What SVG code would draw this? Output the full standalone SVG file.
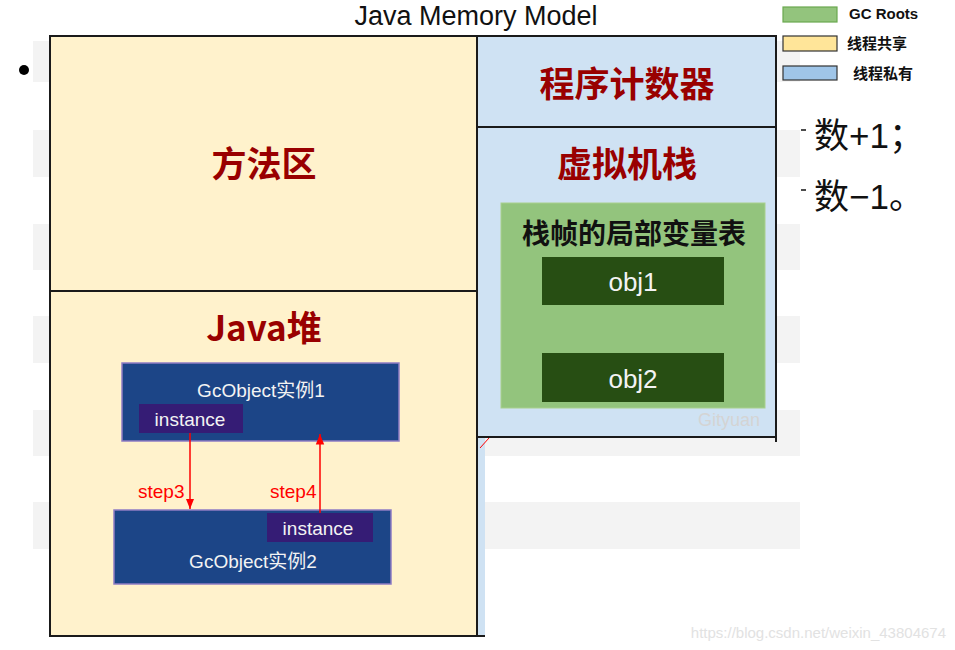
<svg xmlns="http://www.w3.org/2000/svg" width="955" height="650" viewBox="0 0 955 650">
<defs>
<style>
.stripe{fill:#f3f3f3}
.area{stroke:#1a1a1a;stroke-width:2}
.shared{fill:#fff2cc}
.private{fill:#cfe2f3}
.big{font-family:"Noto Sans CJK SC","Liberation Sans",sans-serif;font-weight:bold;font-size:35px;fill:#990000;text-anchor:middle}
.obj{fill:#1c4587;stroke:#8e7cc3;stroke-width:1.5}
.inst{fill:#351c75}
.wt{font-family:"Liberation Sans","Noto Sans CJK SC",sans-serif;fill:#f3f3f3;font-size:19px;text-anchor:middle}
.step{font-family:"Liberation Sans",sans-serif;fill:#ff0000;font-size:19px}
.leg{font-family:"Liberation Sans","Noto Sans CJK SC",sans-serif;font-weight:bold;font-size:15px;fill:#111}
.conn{stroke:#ff0000;stroke-width:1.5;fill:none}
</style>
<marker id="ah" viewBox="0 0 10 10" refX="10" refY="5" markerWidth="7" markerHeight="7" orient="auto">
<path d="M0,1 L10,5 L0,9 z" fill="#ff0000"/>
</marker>
</defs>
<rect width="955" height="650" fill="#ffffff"/>
<g id="background">
<rect class="stripe" x="33" y="41" width="767" height="41"/>
<rect class="stripe" x="33" y="130" width="767" height="47"/>
<rect class="stripe" x="33" y="224" width="767" height="46"/>
<rect class="stripe" x="33" y="316" width="767" height="47"/>
<rect class="stripe" x="33" y="410" width="767" height="46"/>
<rect class="stripe" x="33" y="502" width="767" height="47"/>
<circle cx="24" cy="70" r="5" fill="#000"/>
</g>
<text id="title" x="476" y="25" font-family="Liberation Sans, sans-serif" font-size="27" fill="#111" text-anchor="middle">Java Memory Model</text>
<g id="method-area">
<rect class="area shared" x="50" y="36" width="427" height="255"/>
<text class="big" x="264" y="177">方法区</text>
</g>
<g id="java-heap">
<rect class="area shared" x="50" y="291" width="427" height="345"/>
<text class="big" x="264" y="341">Java堆</text>
</g>
<g id="pc-register">
<rect class="area private" x="477" y="36" width="299" height="91"/>
<text class="big" x="627" y="97">程序计数器</text>
</g>
<g id="vm-stack">
<rect class="area private" x="477" y="127" width="299" height="310"/>
<line x1="776" y1="437" x2="776" y2="442" stroke="#1a1a1a" stroke-width="2"/>
<text class="big" x="627" y="177">虚拟机栈</text>
<text x="729" y="426" font-family="Liberation Sans, sans-serif" font-size="18" fill="#d4d4d4" text-anchor="middle">Gityuan</text>
</g>
<g id="lower-strip">
<rect x="478" y="438" width="7" height="198" fill="#cfe2f3"/>
<line x1="477" y1="636" x2="485" y2="636" stroke="#1a1a1a" stroke-width="2"/>
<line x1="480" y1="448" x2="489" y2="438" stroke="#ff0000" stroke-width="1"/>
</g>
<g id="local-var-table">
<rect x="501" y="203" width="264" height="205" fill="#93c47d" stroke="#a9d08e" stroke-width="1"/>
<text x="634" y="244" font-family="Noto Sans CJK SC, sans-serif" font-weight="bold" font-size="28" fill="#111" text-anchor="middle">栈帧的局部变量表</text>
</g>
<g id="obj1">
<rect x="542" y="257" width="182" height="48" fill="#274e13"/>
<text x="633" y="291" font-family="Liberation Sans, sans-serif" font-size="26" fill="#f3f3f3" text-anchor="middle">obj1</text>
</g>
<g id="obj2">
<rect x="542" y="353" width="182" height="49" fill="#274e13"/>
<text x="633" y="388" font-family="Liberation Sans, sans-serif" font-size="26" fill="#f3f3f3" text-anchor="middle">obj2</text>
</g>
<g id="gcobject1">
<rect class="obj" x="122" y="363" width="277" height="78"/>
<text class="wt" x="261" y="397">GcObject实例1</text>
<rect class="inst" x="139" y="404" width="104" height="29"/>
<text class="wt" x="190" y="426">instance</text>
</g>
<g id="gcobject2">
<rect class="obj" x="114" y="510" width="277" height="74"/>
<rect class="inst" x="267" y="513" width="106" height="29"/>
<text class="wt" x="318" y="535">instance</text>
<text class="wt" x="253" y="568">GcObject实例2</text>
</g>
<g id="connectors">
<line class="conn" x1="190" y1="433" x2="190" y2="509" marker-end="url(#ah)"/>
<line class="conn" x1="320" y1="513" x2="320" y2="434" marker-end="url(#ah)"/>
<text class="step" x="138" y="498">step3</text>
<text class="step" x="270" y="498">step4</text>
</g>
<g id="legend">
<rect x="783" y="7" width="54" height="15" fill="#93c47d" stroke="#6aa84f" stroke-width="1.2"/>
<text class="leg" x="849" y="19">GC Roots</text>
<rect x="783" y="36" width="54" height="15" fill="#ffe599" stroke="#333" stroke-width="1.2"/>
<text class="leg" x="847" y="49">线程共享</text>
<rect x="783" y="66" width="54" height="14" fill="#9fc5e8" stroke="#333" stroke-width="1.2"/>
<text class="leg" x="853" y="79">线程私有</text>
</g>
<g id="side-text" font-family="Liberation Sans, Noto Sans CJK SC, sans-serif" font-size="35" fill="#111">
<line x1="801" y1="130" x2="806" y2="130" stroke="#111" stroke-width="1.5"/>
<text x="814" y="148">数+1；</text>
<line x1="801" y1="190" x2="806" y2="190" stroke="#111" stroke-width="1.5"/>
<text x="814" y="209">数−1。</text>
</g>
<text id="watermark" x="946" y="638" font-family="Liberation Sans, sans-serif" font-size="15" fill="#e2e2e2" text-anchor="end">https://blog.csdn.net/weixin_43804674</text>
</svg>
